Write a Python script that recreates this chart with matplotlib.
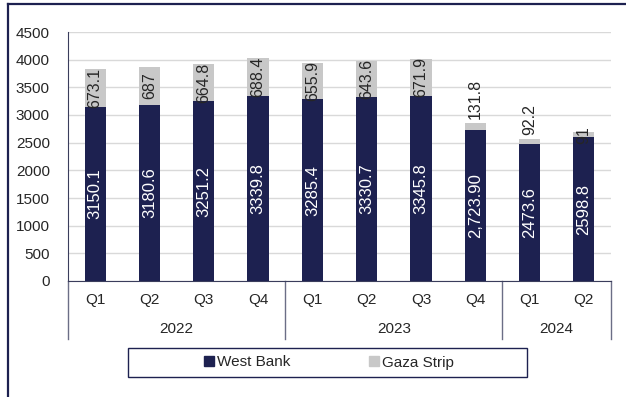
import matplotlib
matplotlib.use("Agg")
import matplotlib.pyplot as plt
from matplotlib.lines import Line2D
from matplotlib.patches import Rectangle, Patch

plt.rcParams['font.family'] = ['Liberation Sans', 'DejaVu Sans']

# datos
trimestres = ['Q1', 'Q2', 'Q3', 'Q4', 'Q1', 'Q2', 'Q3', 'Q4', 'Q1', 'Q2']
anios = ['2022', '2023', '2024']
anios_n = [4, 4, 2]
west_bank = [3150.1, 3180.6, 3251.2, 3339.8, 3285.4, 3330.7, 3345.8, 2723.90, 2473.6, 2598.8]
gaza = [673.1, 687, 664.8, 688.4, 655.9, 643.6, 671.9, 131.8, 92.2, 91]
etiq_wb = ['3150.1', '3180.6', '3251.2', '3339.8', '3285.4', '3330.7', '3345.8', '2,723.90', '2473.6', '2598.8']
etiq_gaza = ['673.1', '687', '664.8', '688.4', '655.9', '643.6', '671.9', '131.8', '92.2', '91']

azul = '#1d2150'
gris = '#c8c8c8'
texto = '#262626'

W, H = 626, 397
fig = plt.figure(figsize=(W / 100, H / 100), dpi=100)
ax = fig.add_axes([68 / W, (H - 281) / H, 543 / W, 249 / H])

x = list(range(len(trimestres)))
ax.bar(x, west_bank, width=0.39, color=azul, label='West Bank', zorder=3)
ax.bar(x, gaza, width=0.39, bottom=west_bank, color=gris, label='Gaza Strip', zorder=3)

for i in x:
    ax.text(i, west_bank[i] / 2, etiq_wb[i], rotation=90, ha='center', va='center',
            color='white', fontsize=12, zorder=4)
    if gaza[i] > 300 or gaza[i] < 92:
        ax.text(i, west_bank[i] + gaza[i] / 2, etiq_gaza[i], rotation=90, ha='center',
                va='center', color=texto, fontsize=11.5, zorder=4)
    else:
        ax.annotate(etiq_gaza[i], (i, west_bank[i] + gaza[i]), xytext=(0, 3),
                    textcoords='offset points', rotation=90, ha='center', va='bottom',
                    color=texto, fontsize=11.5, zorder=4)

ax.set_xlim(-0.5, len(x) - 0.5)
ax.set_ylim(0, 4500)
ax.set_yticks(range(0, 4501, 500))
ax.tick_params(axis='y', length=0, pad=13, labelsize=11, labelcolor=texto)
ax.set_xticks([])
ax.grid(axis='y', color='#d9d9d9', lw=1, zorder=0)
for s in ['top', 'right']:
    ax.spines[s].set_visible(False)
ax.spines['left'].set_color('#3a3d5c')
ax.spines['bottom'].set_color('#3a3d5c')

# eje de categorías en dos niveles
px = 1 / 249
for i, q in enumerate(trimestres):
    ax.text(i, -19 * px, q, transform=ax.get_xaxis_transform(), ha='center', va='center',
            fontsize=11, color=texto)
inicio = -0.5
sep = [inicio]
for a, n in zip(anios, anios_n):
    ax.text(inicio + n / 2, -48 * px, a, transform=ax.get_xaxis_transform(), ha='center',
            va='center', fontsize=11, color=texto)
    inicio += n
    sep.append(inicio)
for s in sep:
    ax.add_line(Line2D([s, s], [0, -58 * px], transform=ax.get_xaxis_transform(),
                       color='#6b6e86', lw=1, clip_on=False))

# leyenda
fig.add_artist(Rectangle((128 / W, (H - 377) / H), 399 / W, 29 / H, transform=fig.transFigure,
                         fill=False, edgecolor=azul, lw=1))
fig.legend(handles=[Patch(color=azul, label='West Bank'), Patch(color=gris, label='Gaza Strip')],
           loc='center', bbox_to_anchor=(329 / W, (H - 362.5) / H), ncol=2, frameon=False,
           fontsize=11, handlelength=0.65, handleheight=0.65, handletextpad=0.2,
           columnspacing=5.2, labelcolor=texto)

# borde de la figura
fig.add_artist(Line2D([8 / W, 8 / W], [0, 1 - 4 / H], transform=fig.transFigure, color=azul, lw=1.6))
fig.add_artist(Line2D([8 / W, 1], [1 - 4 / H, 1 - 4 / H], transform=fig.transFigure, color=azul, lw=1.6))

fig.savefig('out.png', dpi=100)
